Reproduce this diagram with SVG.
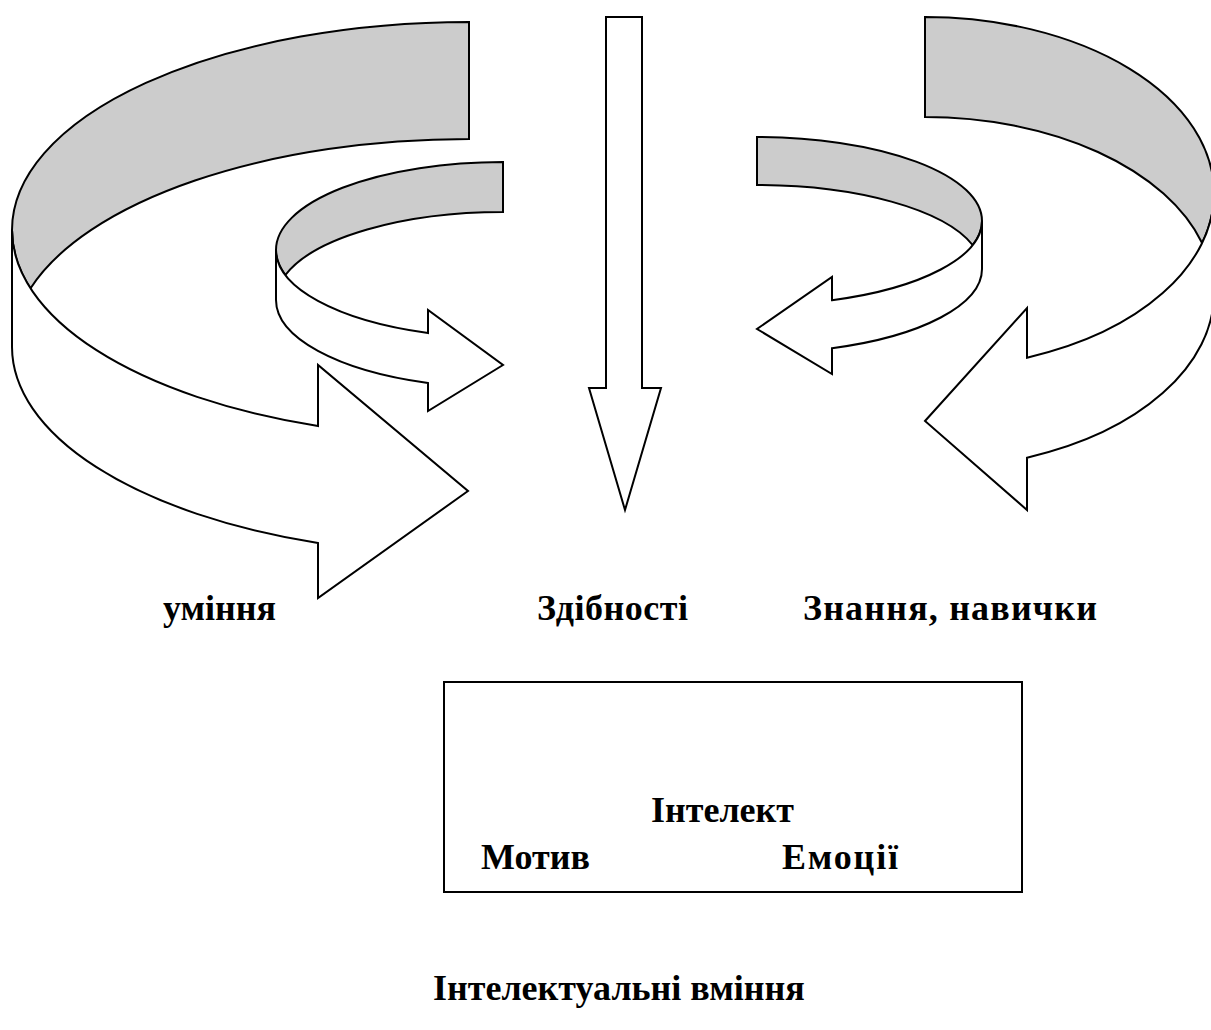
<svg xmlns="http://www.w3.org/2000/svg" width="1211" height="1030" viewBox="0 0 1211 1030">
<style>
.back{fill:#cccccc;stroke:#000;stroke-width:2;stroke-linejoin:miter}
.front{fill:#ffffff;stroke:#000;stroke-width:2;stroke-linejoin:miter}
.lbl{font-family:"Liberation Serif","Times New Roman",serif;font-weight:bold;font-size:36px;fill:#000}
</style>
<rect width="1211" height="1030" fill="#fff"/>
<g id="connectors">
<g id="arrow-left-big">
<path class="back" d="M469,22 A457,208 0 0 0 12,230 A457,208 0 0 0 30.4,288.5 A457,208 0 0 1 469,139 Z"/>
<path class="front" d="M12,230 A457,208 0 0 0 318,426 L318,365 L468,491 L318,598 L318,543 A457,208 0 0 1 12,347 Z"/>
</g>
<g id="arrow-left-small">
<path class="back" d="M503,162 A227,88 0 0 0 276,250 A227,88 0 0 0 285.4,275 A227,88 0 0 1 503,212 Z"/>
<path class="front" d="M276,250 A227,88 0 0 0 428,333 L428,310 L503,365 L428,411 L428,383 A227,88 0 0 1 276,300 Z"/>
</g>
<g id="arrow-down">
<path class="front" d="M606,17 L642,17 L642,388 L661,388 L625,510 L589,388 L606,388 Z"/>
</g>
<g id="arrow-right-small">
<path class="back" d="M757,137 A225,84 0 0 1 982,221 A225,84 0 0 1 972.6,245 A225,84 0 0 0 757,185 Z"/>
<path class="front" d="M982,221 A225,84 0 0 1 832,300.2 L832,277 L757,329 L832,374 L832,348.2 A225,84 0 0 0 982,269 Z"/>
</g>
<g id="arrow-right-big">
<path class="back" d="M925,17 A289,176 0 0 1 1214,193 A289,176 0 0 1 1202.1,243 A289,176 0 0 0 925,117 Z"/>
<path class="front" d="M1214,193 A289,176 0 0 1 1027,357.7 L1027,308 L925,421 L1027,510 L1027,457.7 A289,176 0 0 0 1214,293 Z"/>
</g>
</g>
<g id="label-uminnia"><text class="lbl" x="163" y="620">уміння</text></g>
<g id="label-zdibnosti"><text class="lbl" x="537" y="620" textLength="151" lengthAdjust="spacing">Здібності</text></g>
<g id="label-znannia"><text class="lbl" x="803" y="620" textLength="294" lengthAdjust="spacing">Знання, навички</text></g>
<g id="node-intellect">
<rect x="444" y="682" width="578" height="210" fill="#fff" stroke="#000" stroke-width="2"/>
<text class="lbl" x="651" y="822">Інтелект</text>
<text class="lbl" x="481" y="869">Мотив</text>
<text class="lbl" x="782" y="869" textLength="116" lengthAdjust="spacing">Емоції</text>
</g>
<g id="label-intellectual"><text class="lbl" x="433" y="1000">Інтелектуальні вміння</text></g>
</svg>
